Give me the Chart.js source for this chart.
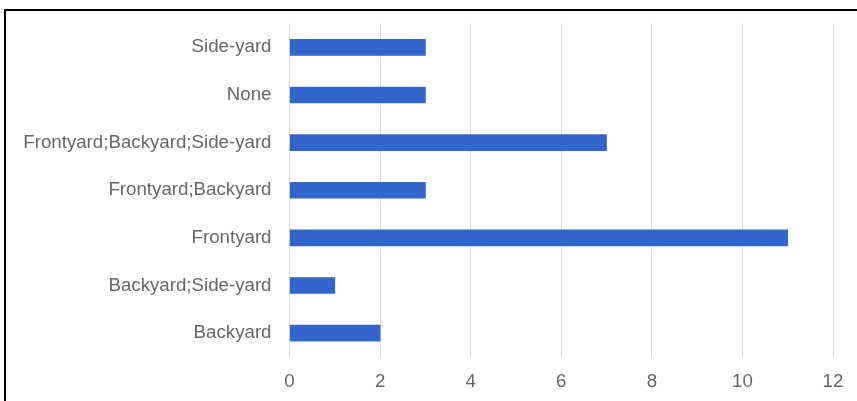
<!DOCTYPE html>
<html>
<head>
<meta charset="utf-8">
<script src="https://cdn.jsdelivr.net/npm/chart.js@4/dist/chart.umd.min.js"></script>
<style>
  html, body { margin: 0; padding: 0; background: #fff; }
  body { width: 857px; height: 401px; position: relative; overflow: hidden; }
  #frame {
    position: absolute; left: 4px; top: 9px; width: 853px; height: 392px;
    border-top: 2px solid #000; border-left: 2px solid #000;
  }
  #wrap { position: absolute; left: 0; top: 0; width: 851px; height: 390px; }
</style>
</head>
<body>
<div id="frame"><div id="wrap"><canvas id="c" width="851" height="390"></canvas></div></div>
<script>
// Where the yard features are located (count of responses)
const categories = [
  'Side-yard',
  'None',
  'Frontyard;Backyard;Side-yard',
  'Frontyard;Backyard',
  'Frontyard',
  'Backyard;Side-yard',
  'Backyard'
];
const counts = [3, 3, 7, 3, 11, 1, 2];
const axisMin = 0;
const axisMax = 12;
const axisStep = 2;

const labelFont = { family: 'Liberation Sans, Arial, sans-serif', size: 18.7 };
const labelColor = '#666';

new Chart(document.getElementById('c'), {
  type: 'bar',
  data: {
    labels: categories,
    datasets: [{
      data: counts,
      backgroundColor: '#3366cc',
      borderWidth: 0,
      barThickness: 16
    }]
  },
  options: {
    indexAxis: 'y',
    responsive: false,
    animation: false,
    layout: { padding: { top: 12.5, right: 24, bottom: 0, left: 0 } },
    plugins: { legend: { display: false }, tooltip: { enabled: false } },
    scales: {
      x: {
        min: axisMin,
        max: axisMax,
        ticks: { stepSize: axisStep, color: labelColor, font: labelFont, padding: 14, maxRotation: 0 },
        grid: { color: '#d9d9d9', drawTicks: false },
        border: { display: false },
        afterFit: (s) => { s.height = 44; s.paddingLeft = 0; s.paddingRight = 0; }
      },
      y: {
        ticks: { color: labelColor, font: labelFont, padding: 18, autoSkip: false },
        grid: { display: false, drawTicks: false },
        border: { display: false },
        afterFit: (s) => { s.width = 283.5; s.paddingTop = 0; s.paddingBottom = 0; }
      }
    }
  }
});
</script>
</body>
</html>
